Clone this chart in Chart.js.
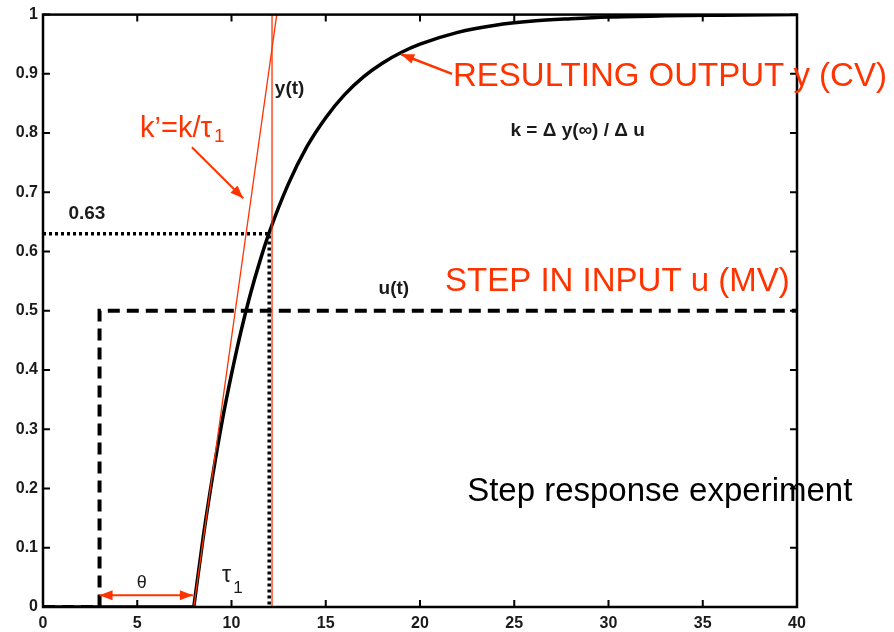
<!DOCTYPE html>
<html>
<head>
<meta charset="utf-8">
<script src="https://cdn.jsdelivr.net/npm/chart.js@4.4.0/dist/chart.umd.min.js"></script>
<style>
  html, body { margin: 0; padding: 0; background: #fff; }
  canvas { display: block; }
</style>
</head>
<body>
<canvas id="chart" width="894" height="632"></canvas>
<script>
// response y(t) (dead time up to t = 8)
const deadTime = [0, 8]
const deadValue = [0, 0]
const outputTime = [8, 8.5, 9, 9.5, 10, 10.5, 11, 11.5, 12, 13, 14, 15, 16, 17, 18, 19, 20, 22, 24, 26, 28, 30, 33, 36, 40]
const outputValue = [0, 0.118, 0.221, 0.313, 0.393, 0.465, 0.528, 0.583, 0.632, 0.713, 0.777, 0.826, 0.865, 0.895, 0.918, 0.936, 0.95, 0.97, 0.982, 0.989, 0.993, 0.996, 0.998, 0.999, 1]

// step input u(t)
const stepTime = [0, 3, 3, 40]
const stepValue = [0, 0, 0.5, 0.5]

// 0.63 marker (dotted)
const markTime = [0, 12, 12]
const markValue = [0.63, 0.63, 0]

// red construction lines: tangent k' and tau1 vertical
const tangentTime = [8, 12.4]
const tangentValue = [0, 1]
const tauTime = [12.15, 12.15]
const tauValue = [0, 1]

const red = '#ff3300'
const ink = '#1a1a1a'
const family = '"Liberation Sans", Arial, sans-serif'

// annotations in data units
const arrows = [
  {from: [7.9, 0.776], to: [10.62, 0.69], width: 2, heads: 1},
  {from: [21.7, 0.9], to: [19.0, 0.933], width: 2.5, heads: 1},
  {from: [3.0, 0.02], to: [7.95, 0.02], width: 2, heads: 2}
]
const notes = [
  {text: '0.63', x: 1.35, y: 0.664, font: 'bold 19px', color: ink, base: 'middle'},
  {text: 'y(t)', x: 12.3, y: 0.875, font: 'bold 19px', color: ink, base: 'middle'},
  {text: 'k = \u0394 y(\u221e) / \u0394 u', x: 24.8, y: 0.804, font: 'bold 19px', color: ink, base: 'middle'},
  {text: 'u(t)', x: 17.8, y: 0.538, font: 'bold 19px', color: ink, base: 'middle'},
  {text: 'k\u2019=k/\u03c4', x: 5.15, y: 0.7926, font: '29px', color: red, base: 'alphabetic', sub: '1', subFont: '19px', subDrop: 0.0079},
  {text: 'RESULTING OUTPUT y (CV)', x: 21.75, y: 0.8803, font: '33px', color: red, base: 'alphabetic'},
  {text: 'STEP IN INPUT u (MV)', x: 21.33, y: 0.5334, font: '33px', color: red, base: 'alphabetic'},
  {text: 'Step response experiment', x: 22.5, y: 0.1793, font: '33px', color: '#000', base: 'alphabetic'},
  {text: '\u03b8', x: 4.98, y: 0.0413, font: '18px', color: ink, base: 'middle'},
  {text: '\u03c4', x: 9.5, y: 0.0422, font: '23px', color: ink, base: 'alphabetic', sub: '1', subFont: '17px', subDrop: 0.0186}
]

function pairs (xs, ys) {
  return xs.map((v, i) => ({x: v, y: ys[i]}))
}

function drawArrow (ctx, x1, y1, x2, y2, heads) {
  const ang = Math.atan2(y2 - y1, x2 - x1)
  const len = 13
  const half = 5
  ctx.beginPath()
  ctx.moveTo(x1, y1)
  ctx.lineTo(x2, y2)
  ctx.stroke()
  const tips = heads === 2 ? [[x2, y2, ang], [x1, y1, ang + Math.PI]] : [[x2, y2, ang]]
  tips.forEach(([tx, ty, a]) => {
    ctx.beginPath()
    ctx.moveTo(tx, ty)
    ctx.lineTo(tx - len * Math.cos(a) + half * Math.sin(a), ty - len * Math.sin(a) - half * Math.cos(a))
    ctx.lineTo(tx - len * Math.cos(a) - half * Math.sin(a), ty - len * Math.sin(a) + half * Math.cos(a))
    ctx.closePath()
    ctx.fill()
  })
}

const overlay = {
  id: 'overlay',
  afterDatasetsDraw (chart) {
    const {ctx, chartArea: area} = chart
    const sx = chart.scales.x
    const sy = chart.scales.y
    ctx.save()

    // box with inward ticks on all four sides
    ctx.strokeStyle = '#000'
    ctx.lineWidth = 2.5
    ctx.strokeRect(area.left, area.top, area.right - area.left, area.bottom - area.top)
    ctx.lineWidth = 2
    ctx.beginPath()
    sx.ticks.forEach((t) => {
      const px = sx.getPixelForValue(t.value)
      ctx.moveTo(px, area.bottom); ctx.lineTo(px, area.bottom - 7)
      ctx.moveTo(px, area.top); ctx.lineTo(px, area.top + 7)
    })
    sy.ticks.forEach((t) => {
      const py = sy.getPixelForValue(t.value)
      ctx.moveTo(area.left, py); ctx.lineTo(area.left + 7, py)
      ctx.moveTo(area.right, py); ctx.lineTo(area.right - 7, py)
    })
    ctx.stroke()

    // red arrows
    ctx.strokeStyle = red
    ctx.fillStyle = red
    arrows.forEach((a) => {
      ctx.lineWidth = a.width
      drawArrow(ctx, sx.getPixelForValue(a.from[0]), sy.getPixelForValue(a.from[1]),
        sx.getPixelForValue(a.to[0]), sy.getPixelForValue(a.to[1]), a.heads)
    })

    // text labels
    notes.forEach((n) => {
      const px = sx.getPixelForValue(n.x)
      const py = sy.getPixelForValue(n.y)
      ctx.font = n.font + ' ' + family
      ctx.fillStyle = n.color
      ctx.textAlign = 'left'
      ctx.textBaseline = n.base
      ctx.fillText(n.text, px, py)
      if (n.sub) {
        const w = ctx.measureText(n.text).width
        ctx.font = n.subFont + ' ' + family
        ctx.fillText(n.sub, px + w + 2, sy.getPixelForValue(n.y - n.subDrop))
      }
    })
    ctx.restore()
  }
}

const tickFont = {family: 'Liberation Sans', size: 16, weight: 'bold'}

new Chart('chart', {
  type: 'scatter',
  data: {
    datasets: [
      {data: pairs(tauTime, tauValue), borderColor: red, borderWidth: 1.3},
      {data: pairs(tangentTime, tangentValue), borderColor: red, borderWidth: 1.3},
      {data: pairs(markTime, markValue), borderColor: '#000', borderWidth: 3.5, borderDash: [3, 3]},
      {data: pairs(stepTime, stepValue), borderColor: '#000', borderWidth: 4, borderDash: [12, 7]},
      {data: pairs(deadTime, deadValue), borderColor: '#000', borderWidth: 3.5},
      {data: pairs(outputTime, outputValue), borderColor: '#000', borderWidth: 3.5, cubicInterpolationMode: 'monotone'}
    ].map((d) => Object.assign({showLine: true, pointRadius: 0, fill: false}, d))
  },
  options: {
    responsive: false,
    animation: false,
    layout: {padding: {left: 0, right: 97, top: 14, bottom: 0}},
    plugins: {legend: {display: false}, tooltip: {enabled: false}},
    scales: {
      x: {
        type: 'linear',
        min: 0,
        max: 40,
        grid: {display: false, drawTicks: false},
        border: {display: false},
        ticks: {stepSize: 5, font: tickFont, color: ink, padding: 7, maxRotation: 0},
        afterFit (scale) { scale.height = 25 }
      },
      y: {
        min: 0,
        max: 1,
        grid: {display: false, drawTicks: false},
        border: {display: false},
        ticks: {
          stepSize: 0.1,
          font: tickFont,
          color: ink,
          padding: 5,
          callback: (v) => String(Number(v.toFixed(1)))
        },
        afterFit (scale) { scale.width = 43 }
      }
    }
  },
  plugins: [overlay]
})
</script>
</body>
</html>
